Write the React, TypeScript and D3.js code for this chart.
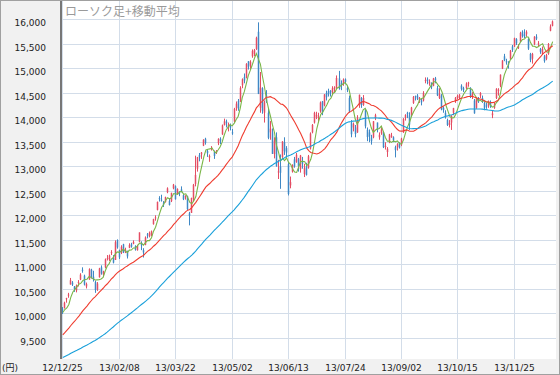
import React, { useEffect, useRef } from 'react'
import * as d3 from 'd3'

// 日経平均 日足 2012/12/25 - 2013/12/20
const opens = [
  10110, 10120, 10300, 10380,
  10600, 10640, 10560, 10480, 10640, 10700, 10900, 10780, 10560, 10700, 10900, 10760, 10650, 10500, 10750, 10950, 10800, 10950, 11120,
  11110, 11250, 11150, 11100, 11500, 11300, 11250, 11420, 11260, 11280, 11350, 11420, 11430, 11380, 11300, 11470, 11450, 11300, 11410,
  11620, 11580, 11600, 11830, 11950, 12120, 12360, 12330, 12250, 12280, 12480, 12300, 12300, 12560, 12600, 12440, 12480, 12540, 12420, 12380,
  12400, 12050, 12060, 12350, 12650, 12960, 13240, 13250, 13430, 13570, 13320, 13190, 13360, 13300, 13290, 13480, 13570, 13660, 13850, 13920, 13800,
  13830, 13700, 13920, 14190, 14340, 14330, 14660, 14830, 14820, 15150, 15060, 15250, 15300, 15400, 15750, 14200, 14600, 14100, 14450, 14100, 13700,
  13700, 13260, 13600, 12900, 13000, 13200, 13500, 13380, 13050, 12620, 12900, 13150, 13100, 13150, 12950, 13100, 12850, 13000, 12980, 13370,
  13700, 13900, 14020, 14000, 14130, 14330, 14250, 14500, 14540, 14550, 14520, 14580, 14600, 14800, 14700, 14700, 14780, 14600, 14400, 13900, 13800, 13800,
  13700, 14250, 14400, 14260, 14150, 13750, 13700, 13600, 13600, 14000, 13900, 13600, 13680, 13700, 13420, 13300, 13500, 13600, 13600, 13400, 13400, 13480,
  13450, 13700, 14000, 14100, 14050, 14050, 14300, 14440, 14450, 14350, 14350, 14350, 14750, 14780, 14700, 14700, 14650, 14800, 14600,
  14400, 14450, 14200, 14100, 13950, 13850, 13900, 14100, 14350, 14400, 14400, 14650, 14600, 14600, 14700, 14600, 14450, 14350, 14200, 14380, 14450, 14400,
  14300, 14250, 14250, 14300, 14050, 14200, 14400, 14550, 14650, 15000, 15250, 15150, 15100, 15200, 15450, 15450, 15600, 15450, 15550, 15750,
  15700, 15700, 15600, 15300, 15200, 15500, 15650, 15500, 15400, 15300, 15250, 15200, 15300, 15770, 15870,
]
const highs = [
  10140, 10250, 10330, 10430,
  10734, 10670, 10570, 10600, 10690, 10830, 10950, 10800, 10640, 10930, 10920, 10880, 10680, 10650, 10940, 10990, 10880, 11130, 11200,
  11210, 11300, 11200, 11500, 11520, 11310, 11400, 11430, 11350, 11290, 11440, 11450, 11500, 11400, 11410, 11660, 11480, 11340, 11580,
  11650, 11680, 11700, 11940, 12010, 12290, 12400, 12430, 12300, 12390, 12580, 12360, 12470, 12650, 12620, 12560, 12500, 12600, 12440, 12420,
  12410, 12080, 12370, 12650, 13225, 13200, 13280, 13300, 13560, 13590, 13360, 13250, 13420, 13330, 13340, 13580, 13600, 13860, 13980, 13960, 13900,
  13880, 13770, 14200, 14330, 14380, 14640, 14800, 14900, 15110, 15150, 15170, 15390, 15400, 15650, 15942, 14930, 14620, 14350, 14560, 14180, 13930,
  13780, 13600, 13700, 13140, 13250, 13520, 13600, 13420, 13100, 12800, 13050, 13200, 13280, 13180, 13240, 13200, 13060, 13080, 13240, 13700,
  13870, 14120, 14120, 14100, 14330, 14340, 14480, 14550, 14590, 14560, 14640, 14640, 14860, 14953, 14760, 14800, 14800, 14650, 14450, 13950, 13900, 13850,
  14050, 14470, 14420, 14460, 14170, 13800, 13760, 13650, 13930, 14080, 13900, 13700, 13800, 13720, 13500, 13400, 13670, 13690, 13620, 13430, 13480, 13500,
  13590, 13990, 14070, 14120, 14110, 14220, 14440, 14450, 14480, 14420, 14380, 14540, 14820, 14820, 14780, 14720, 14810, 14830, 14650,
  14600, 14480, 14230, 14150, 13980, 13950, 14050, 14200, 14420, 14470, 14480, 14680, 14630, 14720, 14730, 14620, 14520, 14380, 14400, 14420, 14520, 14450,
  14330, 14300, 14350, 14350, 14150, 14300, 14600, 14600, 14880, 15170, 15300, 15200, 15150, 15380, 15480, 15630, 15620, 15500, 15750, 15780,
  15800, 15780, 15620, 15320, 15320, 15660, 15700, 15560, 15420, 15450, 15280, 15300, 15520, 15900, 15980,
]
const lows = [
  10000, 10110, 10230, 10330,
  10600, 10570, 10450, 10440, 10560, 10690, 10840, 10580, 10520, 10700, 10720, 10660, 10430, 10470, 10740, 10800, 10760, 10930, 11090,
  11080, 11200, 11030, 11100, 11330, 11120, 11220, 11240, 11240, 11130, 11340, 11350, 11420, 11290, 11290, 11460, 11300, 11150, 11400,
  11540, 11560, 11580, 11820, 11900, 12110, 12290, 12290, 12180, 12270, 12460, 12210, 12280, 12540, 12330, 12430, 12400, 12480, 12320, 12330,
  12120, 11805, 12060, 12300, 12600, 12900, 13110, 13160, 13420, 13450, 13200, 13100, 13330, 13160, 13260, 13440, 13460, 13650, 13840, 13800, 13720,
  13740, 13650, 13900, 14140, 14140, 14320, 14600, 14700, 14800, 14980, 14980, 15220, 15250, 15380, 14480, 14100, 14080, 13900, 14300, 13560, 13550,
  13260, 13170, 13000, 12750, 12550, 13180, 13240, 13190, 12415, 12560, 12880, 12980, 13080, 12900, 12880, 12960, 12790, 12820, 12960, 13350,
  13680, 13880, 13970, 13900, 14100, 14050, 14230, 14350, 14430, 14430, 14460, 14520, 14580, 14570, 14560, 14650, 14680, 14520, 14100, 13600, 13720, 13600,
  13690, 14200, 14200, 14240, 13780, 13520, 13500, 13450, 13580, 13950, 13700, 13550, 13650, 13380, 13350, 13200, 13480, 13590, 13500, 13190, 13330, 13370,
  13420, 13690, 13940, 13990, 13750, 14030, 14280, 14350, 14360, 14300, 14250, 14330, 14700, 14680, 14650, 14580, 14640, 14700, 14440,
  14380, 14150, 14100, 13980, 13830, 13800, 13750, 14050, 14300, 14380, 14380, 14550, 14520, 14580, 14630, 14400, 14380, 14080, 14180, 14300, 14400, 14300,
  14150, 14180, 14200, 14200, 13990, 14180, 14380, 14450, 14620, 14990, 15150, 15080, 15000, 15180, 15340, 15440, 15480, 15400, 15540, 15630,
  15620, 15650, 15380, 15130, 15100, 15480, 15580, 15450, 15300, 15280, 15120, 15170, 15280, 15760, 15860,
]
const closes = [
  10080, 10230, 10322, 10395,
  10688, 10599, 10508, 10578, 10652, 10801, 10879, 10600, 10609, 10913, 10747, 10710, 10487, 10620, 10926, 10824, 10866, 11113, 11138,
  11191, 11260, 11046, 11463, 11357, 11153, 11369, 11251, 11307, 11173, 11407, 11372, 11468, 11310, 11385, 11662, 11398, 11253, 11559,
  11606, 11652, 11683, 11932, 11968, 12283, 12349, 12314, 12239, 12381, 12560, 12220, 12468, 12635, 12338, 12546, 12471, 12493, 12336, 12397,
  12135, 12003, 12362, 12634, 12833, 13192, 13192, 13288, 13549, 13485, 13275, 13221, 13382, 13220, 13316, 13568, 13529, 13843, 13926, 13884, 13860,
  13799, 13694, 14180, 14285, 14191, 14607, 14782, 14758, 15096, 15037, 15138, 15360, 15381, 15627, 14483, 14612, 14142, 14311, 14326, 13589, 13775,
  13262, 13533, 13014, 12904, 12877, 13514, 13317, 13289, 12445, 12686, 13033, 13007, 13245, 13014, 13230, 13062, 12969, 12834, 13213, 13677,
  13852, 14099, 14055, 14018, 14309, 14109, 14472, 14416, 14472, 14506, 14599, 14615, 14808, 14589, 14658, 14778, 14731, 14562, 14129, 13661, 13869, 13668,
  14005, 14466, 14258, 14401, 13824, 13605, 13615, 13519, 13925, 14050, 13752, 13651, 13758, 13397, 13424, 13366, 13660, 13636, 13542, 13338, 13459, 13389,
  13573, 13978, 14053, 14065, 13860, 14205, 14423, 14425, 14387, 14404, 14311, 14505, 14766, 14742, 14732, 14620, 14799, 14760, 14455,
  14484, 14170, 14157, 14024, 13853, 13894, 14037, 14194, 14404, 14441, 14467, 14586, 14561, 14694, 14713, 14426, 14486, 14088, 14396, 14325, 14502, 14327,
  14201, 14225, 14337, 14228, 14086, 14269, 14588, 14567, 14876, 15165, 15164, 15126, 15076, 15365, 15381, 15620, 15515, 15450, 15727, 15661,
  15655, 15749, 15407, 15177, 15299, 15650, 15611, 15515, 15341, 15403, 15152, 15279, 15500, 15859, 15960,
]
// closes before the first bar (2012/09/06 - 12/21), only used for the moving averages
const priorCloses = [
  8680, 8871, 8869, 8807, 8959, 8995, 9159, 9123, 9232, 9086, 9110, 9069, 9091, 8906, 8949, 8870,
  8796, 8786, 8746, 8824, 8863, 8769, 8596, 8546, 8534, 8577, 8701, 8806, 8982, 9002, 9010, 8932, 8954, 9055, 8933, 8929, 8841, 8928,
  8946, 9007, 8975, 8975, 8972, 8837, 8757, 8676, 8661, 8664, 8829, 9024, 9153, 9142, 9222, 9366, 9389, 9423, 9308, 9400, 9446,
  9458, 9432, 9468, 9545, 9527, 9533, 9525, 9581, 9742, 9737, 9828, 9923, 10160, 10039, 9940,
]
const maPeriods = [5, 25, 75]
const maColors = ['#7ab648', '#ef3d30', '#1aa0da']

const yTicks = [9500, 10000, 10500, 11000, 11500, 12000, 12500, 13000, 13500, 14000, 14500, 15000, 15500, 16000]
const dateTickIdx = [0, 28, 56, 84, 112, 140, 168, 196, 224]
const dateLabels = ['12/12/25', '13/02/08', '13/03/22', '13/05/02', '13/06/13', '13/07/24', '13/09/02', '13/10/15', '13/11/25']

const W = 560
const H = 375
const font = '"DejaVu Sans", "Noto Sans CJK JP", sans-serif'

export default function App() {
  const svgRef = useRef<SVGSVGElement | null>(null)

  useEffect(() => {
    if (!svgRef.current) return
    const svg = d3.select(svgRef.current)
    svg.selectAll('*').remove()

    const plot = { left: 62, right: 556, top: 1, bottom: 359 }
    const x = d3.scaleLinear().domain([0, 224]).range([62.8, 514.4])
    const y = d3.scaleLinear().domain([9500, 16000]).range([338.5, 19.5])
    const snap = (v: number) => Math.floor(v) + 0.5

    svg.append('rect').attr('width', W).attr('height', H).attr('fill', '#f1f1f1')
    svg.append('rect')
      .attr('x', plot.left).attr('y', plot.top)
      .attr('width', plot.right - plot.left).attr('height', plot.bottom - plot.top)
      .attr('fill', '#fff')

    svg.append('clipPath').attr('id', 'plot-clip')
      .append('rect')
      .attr('x', plot.left).attr('y', plot.top)
      .attr('width', plot.right - plot.left).attr('height', plot.bottom - plot.top)

    // grid
    const grid = svg.append('g').attr('stroke', '#d3dde9').attr('stroke-width', 1)
    grid.selectAll('.hg').data(yTicks).join('line')
      .attr('x1', plot.left).attr('x2', plot.right)
      .attr('y1', d => snap(y(d))).attr('y2', d => snap(y(d)))
    grid.selectAll('.vg').data(dateTickIdx).join('line')
      .attr('x1', d => snap(x(d))).attr('x2', d => snap(x(d)))
      .attr('y1', plot.top).attr('y2', plot.bottom)

    const body = svg.append('g').attr('clip-path', 'url(#plot-clip)')

    // candles: thin wick + narrow body
    const bars = body.append('g').selectAll('g').data(closes.map((c, i) => i)).join('g')
      .attr('fill', i => closes[i] >= opens[i] ? '#e44d63' : '#3f88c5')
      .attr('stroke', i => closes[i] >= opens[i] ? '#e44d63' : '#3f88c5')
    bars.append('line')
      .attr('x1', i => snap(x(i))).attr('x2', i => snap(x(i)))
      .attr('y1', i => y(highs[i])).attr('y2', i => y(lows[i]))
      .attr('stroke-width', 1)
    bars.append('rect')
      .attr('x', i => Math.floor(x(i)) - 0.25)
      .attr('width', 1.5)
      .attr('y', i => y(Math.max(opens[i], closes[i])))
      .attr('height', i => Math.max(1, Math.abs(y(opens[i]) - y(closes[i]))))
      .attr('stroke', 'none')

    // moving averages
    const all = priorCloses.concat(closes)
    const p = priorCloses.length
    maPeriods.forEach((n, k) => {
      const ma = closes.map((_, i) => d3.mean(all.slice(p + i - n + 1, p + i + 1)) as number)
      const line = d3.line<number>().x((_, i) => x(i)).y(d => y(d))
      body.append('path')
        .attr('d', line(ma))
        .attr('fill', 'none')
        .attr('stroke', maColors[k])
        .attr('stroke-width', 1.1)
    })

    // left axis line
    svg.append('line')
      .attr('x1', 61).attr('x2', 61).attr('y1', plot.top).attr('y2', plot.bottom)
      .attr('stroke', '#777').attr('stroke-width', 2)

    // y labels
    svg.append('g').selectAll('text').data(yTicks).join('text')
      .attr('x', 46).attr('y', d => snap(y(d)) + 6)
      .attr('text-anchor', 'end')
      .attr('font-family', font).attr('font-size', 9).attr('fill', '#222')
      .text(d => d3.format(',')(d))

    // date labels
    svg.append('g').selectAll('text').data(dateTickIdx).join('text')
      .attr('x', d => snap(x(d))).attr('y', 371)
      .attr('text-anchor', 'middle')
      .attr('font-family', font).attr('font-size', 9).attr('fill', '#222')
      .text((_, i) => dateLabels[i])

    svg.append('text')
      .attr('x', 2).attr('y', 371)
      .attr('font-family', font).attr('font-size', 9).attr('fill', '#222')
      .text('(円)')

    svg.append('text')
      .attr('x', 65).attr('y', 16)
      .attr('font-family', '"Noto Sans CJK JP", sans-serif').attr('font-size', 12).attr('fill', '#9a9a9a')
      .text('ローソク足+移動平均')

    svg.append('rect')
      .attr('x', 0.5).attr('y', 0.5).attr('width', W - 1).attr('height', H - 1)
      .attr('fill', 'none').attr('stroke', '#a0a0a0')
  }, [])

  return (
    <svg
      ref={svgRef}
      width={W}
      height={H}
      style={{ position: 'absolute', left: 0, top: 0, display: 'block' }}
    />
  )
}
